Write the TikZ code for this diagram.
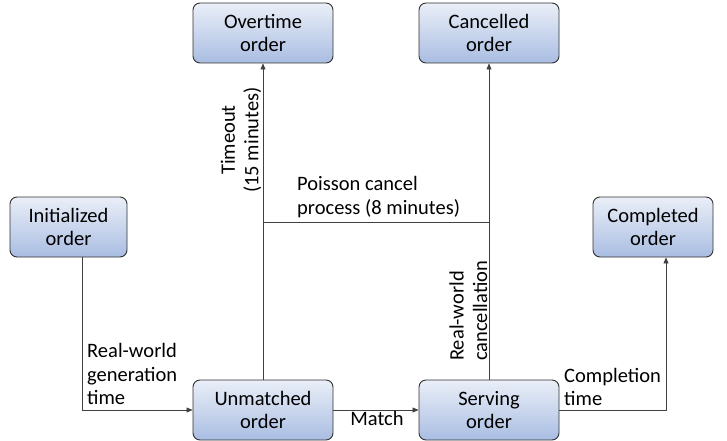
\documentclass[tikz,border=0pt]{standalone}
\usepackage{fontspec}
\setmainfont{Carlito}
\usetikzlibrary{arrows.meta}
\definecolor{boxtop}{HTML}{EAEFF8}
\definecolor{boxbot}{HTML}{A9BDE2}
\definecolor{boxline}{HTML}{303030}
\tikzset{
  state/.style={draw=boxline, line width=0.9pt, rounded corners=7pt,
    top color=boxtop, bottom color=boxbot, minimum width=140pt,
    minimum height=60pt, align=center, inner sep=2pt,
    font=\fontsize{20.5}{23.5}\selectfont},
  lbl/.style={inner sep=1pt, font=\fontsize{20.5}{23.5}\selectfont},
  conn/.style={draw=black!75, line width=0.6pt},
  arr/.style={conn, -{Triangle[length=6pt,width=5pt]}}
}
\begin{document}
\begin{tikzpicture}[x=1pt,y=-1pt]
\useasboundingbox (0,0) rectangle (727,441);

% order states
\node[state, minimum width=117pt] (init) at (68.5,227) {Initialized\\order};
\node[state] (overt) at (263,33) {Overtime\\order};
\node[state] (cancel) at (489,33) {Cancelled\\order};
\node[state, minimum width=120pt] (compl) at (653,227) {Completed\\order};
\node[state] (unm) at (263,410) {Unmatched\\order};
\node[state] (serv) at (489,410) {Serving\\order};

% transitions
\draw[arr] ([xshift=13.5pt]init.south) |- (unm.west);
\draw[arr] (unm.east) -- (serv.west);
\draw[arr] (unm.north) -- (overt.south);
\draw[arr] (serv.north) -- (cancel.south);
\coordinate (split) at (263,222);
\draw[conn] (split) -- (split -| serv.north);
\draw[arr] (serv.east) -| ([xshift=13pt]compl.south);

% transition labels
\node[lbl, anchor=south west, align=left] (lgen) at (86,406) {Real-world\\generation\\time};
\node[lbl, anchor=north] (lmatch) at (377,410) {Match};
\node[lbl, anchor=south, rotate=90, align=center] (ltime) at (262.5,140) {Timeout\\(15 minutes)};
\node[lbl, anchor=south west, align=left] (lpois) at (296,219) {Poisson cancel\\process (8 minutes)};
\node[lbl, anchor=south west, rotate=90, align=left] (lreal) at (488.5,362) {Real-world\\cancellation};
\node[lbl, anchor=south west, align=left] (lcomp) at (563,407) {Completion\\time};
\end{tikzpicture}
\end{document}
